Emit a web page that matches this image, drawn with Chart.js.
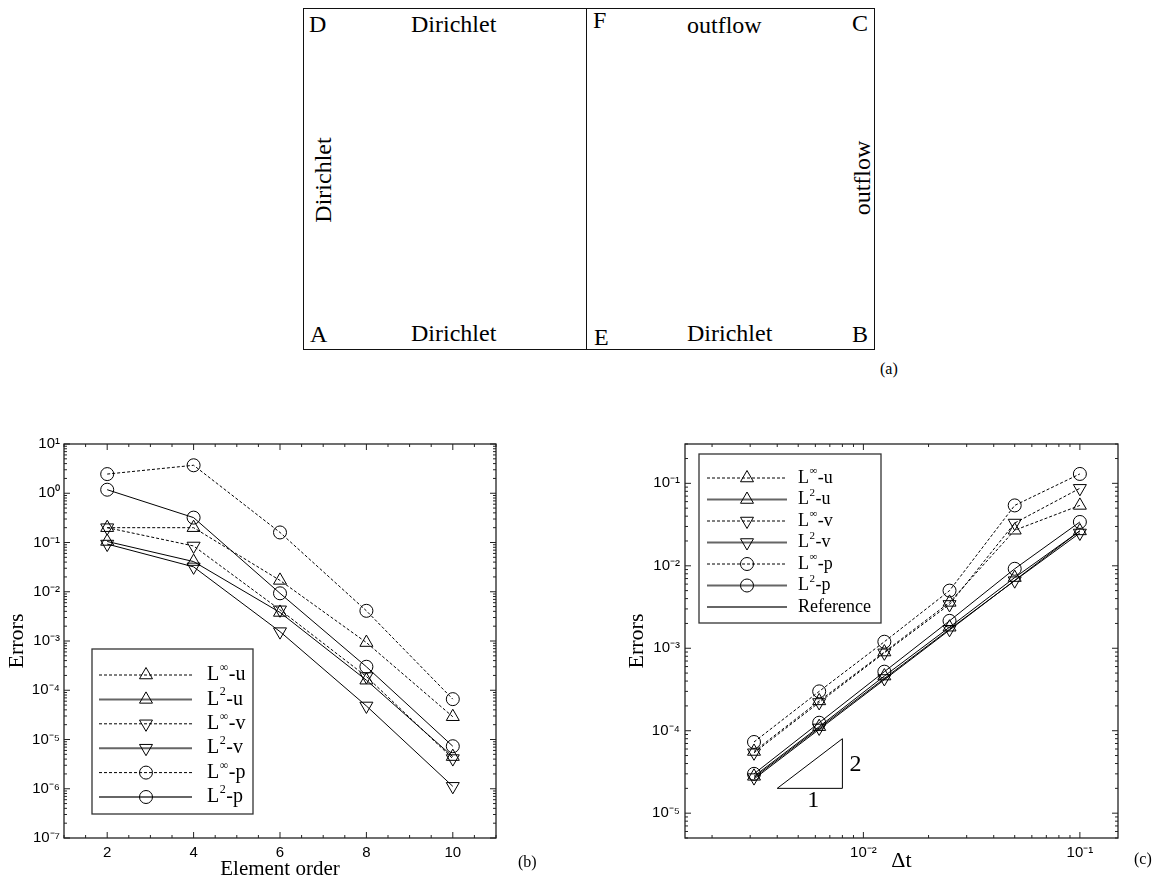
<!DOCTYPE html>
<html>
<head>
<meta charset="utf-8">
<script src="https://cdn.jsdelivr.net/npm/chart.js@4.4.0/dist/chart.umd.min.js"></script>
<style>
  body { margin: 0; width: 1160px; height: 882px; background: #fff; position: relative; overflow: hidden; font-family: "Liberation Serif", "Times New Roman", serif; color: #000; }
  .domain { position: absolute; left: 303px; top: 8px; width: 572px; height: 342px; border: 1.5px solid #111; box-sizing: border-box; }
  .divider { position: absolute; left: 586px; top: 8px; height: 342px; border-left: 1.5px solid #111; }
  .lbl { position: absolute; font-size: 24px; line-height: 24px; white-space: nowrap; }
  .vert { transform: translate(-50%, -50%) rotate(-90deg); }
  .tag { position: absolute; font-size: 16px; line-height: 16px; }
  canvas { position: absolute; }
</style>
</head>
<body>

<!-- (a) domain sketch -->
<div class="domain"></div>
<div class="divider"></div>
<div class="lbl" style="left:309px;top:12px">D</div>
<div class="lbl" style="left:411px;top:12px">Dirichlet</div>
<div class="lbl" style="left:593px;top:8px">F</div>
<div class="lbl" style="left:687px;top:13px">outflow</div>
<div class="lbl" style="left:852px;top:11px">C</div>
<div class="lbl vert" style="left:323px;top:180px">Dirichlet</div>
<div class="lbl vert" style="left:862px;top:178px">outflow</div>
<div class="lbl" style="left:310px;top:322px">A</div>
<div class="lbl" style="left:411px;top:321px">Dirichlet</div>
<div class="lbl" style="left:594px;top:325px">E</div>
<div class="lbl" style="left:687px;top:321px">Dirichlet</div>
<div class="lbl" style="left:852px;top:322px">B</div>
<div class="tag" style="left:880px;top:361px">(a)</div>

<canvas id="chartOrder" width="540" height="482" style="left:0;top:400px"></canvas>
<canvas id="chartStep" width="560" height="482" style="left:600px;top:400px"></canvas>

<div class="tag" style="left:518px;top:854px">(b)</div>
<div class="tag" style="left:1134px;top:851px">(c)</div>

<script>
const SERIF = '"Liberation Serif", "Times New Roman", serif';
const SANS = '"Liberation Sans", Arial, sans-serif';

// (b) errors vs element order
const elementOrders = [2, 4, 6, 8, 10];
const orderTicks = [2, 4, 6, 8, 10];
const orderLinfU = [0.2, 0.2, 0.017, 9.3e-4, 2.9e-5];
const orderL2U = [0.105, 0.041, 3.8e-3, 1.6e-4, 4.5e-6];
const orderLinfV = [0.2, 0.085, 4.3e-3, 1.9e-4, 4.1e-6];
const orderL2V = [0.093, 0.032, 1.55e-3, 4.8e-5, 1.12e-6];
const orderLinfP = [2.45, 3.7, 0.16, 4.1e-3, 6.6e-5];
const orderL2P = [1.18, 0.32, 9.3e-3, 3.0e-4, 7.3e-6];
const errorTicksB = [1e-7, 1e-6, 1e-5, 1e-4, 1e-3, 1e-2, 1e-1, 1, 10];

// (c) errors vs time step
const timeSteps = [3.125e-3, 6.25e-3, 0.0125, 0.025, 0.05, 0.1];
const stepLinfU = [5.6e-5, 2.3e-4, 9.0e-4, 3.6e-3, 0.027, 0.054];
const stepL2U = [2.8e-5, 1.12e-4, 4.6e-4, 1.8e-3, 7.2e-3, 0.0265];
const stepLinfV = [5.4e-5, 2.2e-4, 8.8e-4, 3.4e-3, 0.033, 0.087];
const stepL2V = [2.7e-5, 1.08e-4, 4.3e-4, 1.7e-3, 6.6e-3, 0.025];
const stepLinfP = [7.3e-5, 3.0e-4, 1.2e-3, 5.0e-3, 0.054, 0.13];
const stepL2P = [3.0e-5, 1.25e-4, 5.2e-4, 2.15e-3, 9.2e-3, 0.034];
const refSteps = [3.125e-3, 0.1];
const refErrors = [2.6e-5, 0.0266];
const dtTicks = [1e-2, 1e-1];
const errorTicksC = [1e-5, 1e-4, 1e-3, 1e-2, 1e-1];

// slope triangle
const slopeSteps = [4e-3, 8e-3, 8e-3, 4e-3];
const slopeErrors = [2e-5, 2e-5, 8e-5, 2e-5];
const slopeLabels = ["1", "2"];
const slopeLabelSteps = [5.87e-3, 9.2e-3];
const slopeLabelErrors = [1.4e-5, 3.85e-5];

const seriesNames = ["L^∞-u", "L^2-u", "L^∞-v", "L^2-v", "L^∞-p", "L^2-p"];

const SUP = { "-": "⁻", "0": "⁰", "1": "¹", "2": "²", "3": "³", "4": "⁴", "5": "⁵", "6": "⁶", "7": "⁷", "8": "⁸", "9": "⁹" };
function pow10Label(v) {
  const e = Math.round(Math.log10(v));
  return "10" + String(e).split("").map((c) => SUP[c]).join("");
}

function series(label, xs, ys, dashed, style, rot) {
  return {
    label: label,
    data: xs.map((x, i) => ({ x: x, y: ys[i] })),
    showLine: true,
    borderColor: "#000",
    borderWidth: 1,
    borderDash: dashed ? [3, 2] : [],
    pointStyle: style,
    pointRotation: rot,
    pointRadius: style === "circle" ? 6.5 : 7.5,
    pointBorderColor: "#000",
    pointBorderWidth: 1,
    pointBackgroundColor: "rgba(0,0,0,0)",
    dashed: dashed,
  };
}

// label with a superscript after "^"
function drawLabel(ctx, text, x, y, size) {
  ctx.fillStyle = "#000";
  ctx.textBaseline = "middle";
  ctx.textAlign = "left";
  ctx.font = size + "px " + SERIF;
  const parts = text.split("^");
  if (parts.length === 1) {
    ctx.fillText(text, x, y);
    return;
  }
  ctx.fillText(parts[0], x, y);
  x += ctx.measureText(parts[0]).width;
  const sup = parts[1][0];
  const rest = parts[1].slice(1);
  ctx.font = Math.round(size * 0.6) + "px " + SERIF;
  ctx.fillText(sup, x + 0.5, y - size * 0.36);
  x += ctx.measureText(sup).width + 1;
  ctx.font = size + "px " + SERIF;
  ctx.fillText(rest, x, y);
}

// tick positions for the inward tick marks
function tickMarks(scale, step) {
  const majors = scale.ticks.map((t) => t.value);
  const out = [];
  if (scale.type === "logarithmic") {
    const e0 = Math.floor(Math.log10(scale.min));
    const e1 = Math.ceil(Math.log10(scale.max));
    for (let e = e0; e <= e1; e++) {
      for (let m = 1; m < 10; m++) {
        const v = m * Math.pow(10, e);
        if (v >= scale.min * 0.999 && v <= scale.max * 1.001) out.push({ v: v, major: m === 1 });
      }
    }
  } else {
    for (let v = scale.min; v <= scale.max + 1e-9; v += step) {
      out.push({ v: v, major: majors.indexOf(v) >= 0 });
    }
  }
  return out;
}

const frameTicks = {
  id: "frameTicks",
  afterDatasetsDraw(chart, args, o) {
    const { ctx, chartArea: a } = chart;
    const xs = chart.scales.x;
    const ys = chart.scales.y;
    ctx.save();
    ctx.setLineDash([]);
    ctx.strokeStyle = "#222";
    ctx.lineWidth = 1.3;
    ctx.strokeRect(a.left, a.top, a.right - a.left, a.bottom - a.top);
    ctx.lineWidth = 1;
    ctx.beginPath();
    tickMarks(xs, o.xStep).forEach((m) => {
      const p = xs.getPixelForValue(m.v);
      const len = m.major ? 6 : 3;
      ctx.moveTo(p, a.bottom);
      ctx.lineTo(p, a.bottom - len);
      ctx.moveTo(p, a.top);
      ctx.lineTo(p, a.top + len);
    });
    tickMarks(ys, o.yStep).forEach((m) => {
      const p = ys.getPixelForValue(m.v);
      const len = m.major ? 6 : 3;
      ctx.moveTo(a.left, p);
      ctx.lineTo(a.left + len, p);
      ctx.moveTo(a.right, p);
      ctx.lineTo(a.right - len, p);
    });
    ctx.stroke();
    ctx.restore();
  },
};

const boxLegend = {
  id: "boxLegend",
  afterDraw(chart, args, o) {
    const ctx = chart.ctx;
    ctx.save();
    ctx.fillStyle = "#fff";
    ctx.fillRect(o.left, o.top, o.width, o.height);
    ctx.strokeStyle = "#333";
    ctx.lineWidth = 1.3;
    ctx.strokeRect(o.left, o.top, o.width, o.height);
    const items = chart.data.datasets.filter((d) => d.label);
    items.forEach((d, i) => {
      const y = o.firstRow + i * o.rowStep;
      ctx.beginPath();
      ctx.setLineDash(d.dashed ? [3, 2] : []);
      ctx.strokeStyle = d.dashed ? "#000" : "#666";
      ctx.lineWidth = d.dashed ? 1 : 2;
      ctx.moveTo(o.lineStart, y);
      ctx.lineTo(o.lineEnd, y);
      ctx.stroke();
      ctx.setLineDash([]);
      if (d.pointRadius > 0) {
        ctx.strokeStyle = "#000";
        ctx.fillStyle = "rgba(0,0,0,0)";
        ctx.lineWidth = 1;
        Chart.helpers.drawPoint(ctx, { pointStyle: d.pointStyle, rotation: d.pointRotation, radius: d.pointRadius, borderWidth: 1 }, o.markerX, y);
      }
      drawLabel(ctx, d.label, o.textX, y, o.fontSize);
    });
    ctx.restore();
  },
};

const noteText = {
  id: "noteText",
  afterDatasetsDraw(chart, args, o) {
    if (!o.labels) return;
    const ctx = chart.ctx;
    ctx.save();
    ctx.fillStyle = "#000";
    ctx.font = o.fontSize + "px " + SERIF;
    ctx.textAlign = "center";
    ctx.textBaseline = "middle";
    o.labels.forEach((t, i) => {
      ctx.fillText(t, chart.scales.x.getPixelForValue(o.xs[i]), chart.scales.y.getPixelForValue(o.ys[i]));
    });
    ctx.restore();
  },
};

const tickFont = { family: SANS, size: 15 };

// (b) element order chart
new Chart(document.getElementById("chartOrder"), {
  type: "scatter",
  data: {
    datasets: [
      series(seriesNames[0], elementOrders, orderLinfU, true, "triangle", 0),
      series(seriesNames[1], elementOrders, orderL2U, false, "triangle", 0),
      series(seriesNames[2], elementOrders, orderLinfV, true, "triangle", 180),
      series(seriesNames[3], elementOrders, orderL2V, false, "triangle", 180),
      series(seriesNames[4], elementOrders, orderLinfP, true, "circle", 0),
      series(seriesNames[5], elementOrders, orderL2P, false, "circle", 0),
    ],
  },
  options: {
    responsive: false,
    animation: false,
    events: [],
    layout: { padding: { left: 0, top: 44, right: 44, bottom: 0 } },
    scales: {
      x: {
        type: "linear",
        min: 1,
        max: 11,
        afterBuildTicks: (s) => { s.ticks = orderTicks.map((v) => ({ value: v })); },
        afterFit: (s) => { s.height = 44; },
        grid: { display: false, drawTicks: false },
        border: { display: false },
        ticks: { color: "#000", font: tickFont, padding: 6, maxRotation: 0, autoSkip: false, callback: (v) => String(v) },
        title: { display: true, text: "Element order", color: "#000", font: { family: SERIF, size: 21 }, padding: { top: 0, bottom: 0 } },
      },
      y: {
        type: "logarithmic",
        min: 1e-7,
        max: 10,
        afterBuildTicks: (s) => { s.ticks = errorTicksB.map((v) => ({ value: v })); },
        afterFit: (s) => { s.width = 64; },
        grid: { display: false, drawTicks: false },
        border: { display: false },
        ticks: { color: "#000", font: tickFont, padding: 4, autoSkip: false, callback: (v) => pow10Label(v) },
        title: { display: true, text: "Errors", color: "#000", font: { family: SERIF, size: 22 }, padding: { top: 4, bottom: 0 } },
      },
    },
    plugins: {
      legend: { display: false },
      tooltip: { enabled: false },
      frameTicks: { xStep: 0.5 },
      boxLegend: { left: 92, top: 249, width: 161, height: 165, firstRow: 275, rowStep: 24.4, lineStart: 99, lineEnd: 192, markerX: 146, textX: 207, fontSize: 20 },
    },
  },
  plugins: [frameTicks, boxLegend],
});

// (c) time step chart
new Chart(document.getElementById("chartStep"), {
  type: "scatter",
  data: {
    datasets: [
      series(seriesNames[0], timeSteps, stepLinfU, true, "triangle", 0),
      series(seriesNames[1], timeSteps, stepL2U, false, "triangle", 0),
      series(seriesNames[2], timeSteps, stepLinfV, true, "triangle", 180),
      series(seriesNames[3], timeSteps, stepL2V, false, "triangle", 180),
      series(seriesNames[4], timeSteps, stepLinfP, true, "circle", 0),
      series(seriesNames[5], timeSteps, stepL2P, false, "circle", 0),
      {
        label: "Reference",
        data: refSteps.map((x, i) => ({ x: x, y: refErrors[i] })),
        showLine: true,
        borderColor: "#000",
        borderWidth: 1,
        pointRadius: 0,
        dashed: false,
      },
      {
        label: "",
        data: slopeSteps.map((x, i) => ({ x: x, y: slopeErrors[i] })),
        showLine: true,
        borderColor: "#000",
        borderWidth: 1,
        pointRadius: 0,
      },
    ],
  },
  options: {
    responsive: false,
    animation: false,
    events: [],
    layout: { padding: { left: 0, top: 44, right: 42, bottom: 0 } },
    scales: {
      x: {
        type: "logarithmic",
        min: 1.5e-3,
        max: 0.15,
        afterBuildTicks: (s) => { s.ticks = dtTicks.map((v) => ({ value: v })); },
        afterFit: (s) => { s.height = 44; },
        grid: { display: false, drawTicks: false },
        border: { display: false },
        ticks: { color: "#000", font: tickFont, padding: 6, maxRotation: 0, autoSkip: false, callback: (v) => pow10Label(v) },
        title: { display: true, text: "Δt", color: "#000", font: { family: SERIF, size: 22 }, padding: { top: 0, bottom: 8 } },
      },
      y: {
        type: "logarithmic",
        min: 5e-6,
        max: 0.3,
        afterBuildTicks: (s) => { s.ticks = errorTicksC.map((v) => ({ value: v })); },
        afterFit: (s) => { s.width = 85; },
        grid: { display: false, drawTicks: false },
        border: { display: false },
        ticks: { color: "#000", font: tickFont, padding: 5, autoSkip: false, callback: (v) => pow10Label(v) },
        title: { display: true, text: "Errors", color: "#000", font: { family: SERIF, size: 22 }, padding: { top: 24, bottom: 0 } },
      },
    },
    plugins: {
      legend: { display: false },
      tooltip: { enabled: false },
      frameTicks: { xStep: 1 },
      boxLegend: { left: 99, top: 54, width: 182, height: 169, firstRow: 78, rowStep: 21.5, lineStart: 107, lineEnd: 187, markerX: 147, textX: 198, fontSize: 18 },
      noteText: { labels: slopeLabels, xs: slopeLabelSteps, ys: slopeLabelErrors, fontSize: 24 },
    },
  },
  plugins: [frameTicks, boxLegend, noteText],
});
</script>
</body>
</html>
